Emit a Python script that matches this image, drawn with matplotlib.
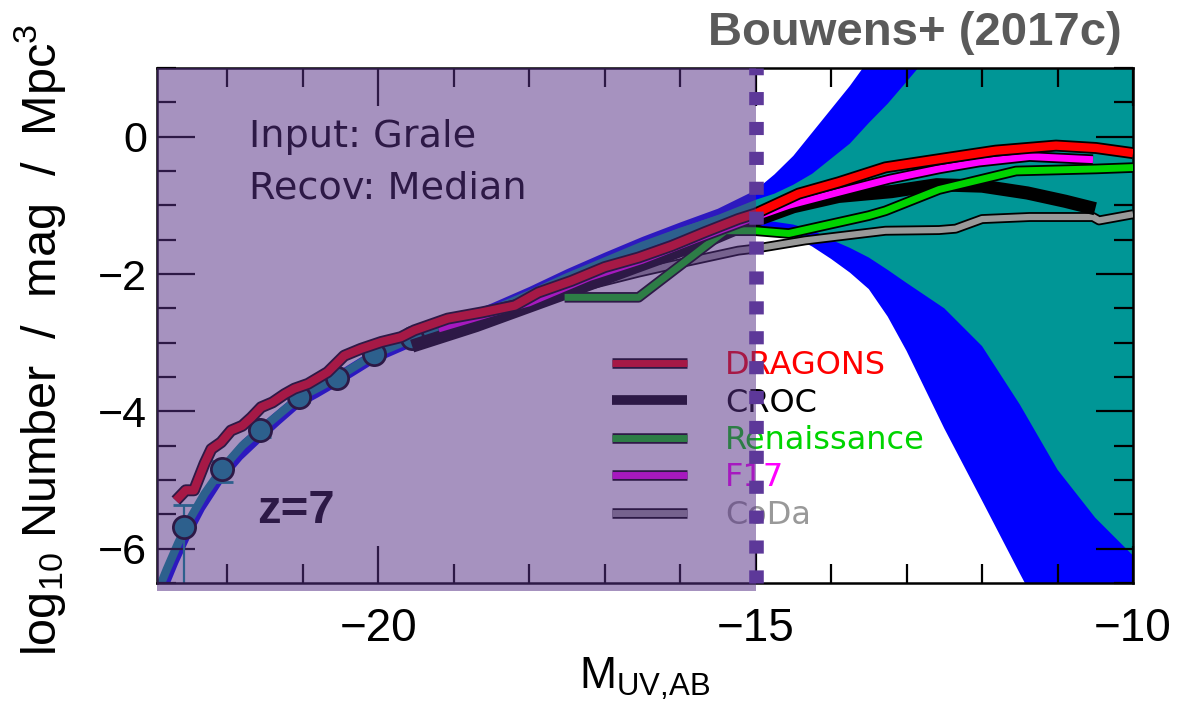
import matplotlib
matplotlib.use("Agg")
import matplotlib.pyplot as plt
import matplotlib.patheffects as pe
from matplotlib.patches import Rectangle
from matplotlib.lines import Line2D
from matplotlib.ticker import MultipleLocator

plt.rcParams['font.family'] = ['Liberation Sans', 'DejaVu Sans']
plt.rcParams['mathtext.default'] = 'regular'

# observed z=7 LF points
obs_mag = [-22.57, -22.07, -21.56, -21.05, -20.55, -20.05, -19.55]
obs_phi = [-5.69, -4.84, -4.27, -3.79, -3.51, -3.17, -2.93]
obs_err_lo = [1.00, 0.19, 0.11, 0.07, 0.05, 0.04, 0.04]
obs_err_hi = [0.32, 0.12, 0.09, 0.06, 0.05, 0.04, 0.04]

# fit + confidence bands
band_mag = [-22.93, -22.80, -22.65, -22.50, -22.30, -22.07, -21.80, -21.56, -21.30,
            -21.05, -20.80, -20.55, -20.30, -20.05, -19.55, -19.00, -18.50, -18.00,
            -17.50, -17.00, -16.50, -16.00, -15.50, -15.00, -14.75, -14.50, -14.25,
            -14.00, -13.75, -13.50, -13.25, -13.00, -12.50, -12.00, -11.50, -11.00,
            -10.50, -10.00]
fit_center = [-6.65, -6.30, -5.92, -5.58, -5.20, -4.84, -4.50, -4.27, -4.03, -3.80,
              -3.66, -3.51, -3.34, -3.17, -2.94, -2.74, -2.53, -2.30, -2.05, -1.82,
              -1.59, -1.39, -1.21, -1.05]
inner_hi = [-6.60, -6.25, -5.87, -5.53, -5.15, -4.79, -4.45, -4.22, -3.98, -3.75,
            -3.61, -3.46, -3.29, -3.12, -2.89, -2.69, -2.48, -2.25, -2.00, -1.77,
            -1.54, -1.33, -1.14, -0.92, -0.83, -0.70, -0.54, -0.32, -0.10, 0.20,
            0.48, 0.80, 1.45, 2.20, 3.00, 3.80, 4.60, 5.40]
inner_lo = [-6.70, -6.35, -5.97, -5.63, -5.25, -4.89, -4.55, -4.32, -4.08, -3.85,
            -3.71, -3.56, -3.39, -3.22, -2.99, -2.79, -2.58, -2.35, -2.10, -1.87,
            -1.64, -1.44, -1.27, -1.22, -1.24, -1.28, -1.36, -1.50, -1.62, -1.76,
            -1.94, -2.13, -2.50, -3.05, -3.90, -4.85, -5.55, -6.10]
outer_hi = [-6.55, -6.20, -5.83, -5.49, -5.12, -4.76, -4.42, -4.19, -3.95, -3.72,
            -3.58, -3.43, -3.26, -3.09, -2.86, -2.65, -2.43, -2.19, -1.93, -1.69,
            -1.46, -1.25, -1.05, -0.78, -0.55, -0.28, 0.06, 0.40, 0.74, 1.12,
            1.55, 2.00, 2.80, 3.60, 4.40, 5.20, 6.00, 6.80]
outer_lo = [-7.00, -6.62, -6.22, -5.86, -5.44, -5.05, -4.70, -4.45, -4.19, -3.95,
            -3.80, -3.64, -3.47, -3.30, -3.06, -2.86, -2.65, -2.42, -2.17, -1.94,
            -1.71, -1.51, -1.35, -1.30, -1.36, -1.46, -1.60, -1.78, -1.98, -2.22,
            -2.62, -3.12, -4.25, -5.30, -6.36, -7.40, -8.40, -9.40]

# simulations
dragons_mag = [-22.68, -22.55, -22.44, -22.30, -22.21, -22.08, -21.95, -21.80, -21.68,
               -21.55, -21.40, -21.24, -21.11, -20.93, -20.67, -20.45, -20.23, -19.96,
               -19.70, -19.52, -19.08, -18.63, -18.19, -17.88, -17.44, -17.00, -16.55,
               -16.11, -15.67, -15.23, -15.00, -14.43, -13.90, -13.28, -12.70, -11.82,
               -11.02, -10.49, -10.00]
dragons_phi = [-5.30, -5.15, -5.15, -4.76, -4.55, -4.45, -4.28, -4.21, -4.09,
               -3.94, -3.87, -3.75, -3.67, -3.60, -3.43, -3.19, -3.09, -2.99,
               -2.92, -2.82, -2.65, -2.56, -2.46, -2.27, -2.10, -1.90, -1.76,
               -1.59, -1.39, -1.20, -1.12, -0.83, -0.665, -0.447, -0.35, -0.204,
               -0.13, -0.165, -0.24]
croc_mag = [-19.55, -18.70, -17.60, -16.60, -15.60, -15.00, -14.50, -13.90, -13.20,
            -12.60, -12.00, -11.40, -10.90, -10.50]
croc_phi = [-3.05, -2.75, -2.31, -1.90, -1.50, -1.22, -1.02, -0.87, -0.80,
            -0.70, -0.72, -0.82, -0.94, -1.05]
ren_mag = [-17.53, -16.55, -15.40, -15.00, -14.56, -13.50, -13.28, -12.57, -11.55,
           -10.49, -10.00]
ren_phi = [-2.34, -2.34, -1.37, -1.37, -1.41, -1.15, -1.08, -0.77, -0.50,
           -0.47, -0.45]
f17_mag = [-19.20, -18.50, -18.00, -17.20, -16.50, -15.80, -15.00, -14.56, -13.90,
           -13.23, -12.57, -12.04, -11.37, -10.53]
f17_phi = [-2.80, -2.57, -2.42, -2.05, -1.80, -1.50, -1.17, -1.00, -0.81,
           -0.62, -0.47, -0.37, -0.29, -0.335]
coda_mag = [-18.60, -17.88, -17.20, -16.55, -15.90, -15.23, -15.00, -14.34, -13.28,
            -12.57, -12.35, -12.00, -11.37, -10.53, -10.45, -10.00]
coda_phi = [-2.55, -2.36, -2.16, -1.98, -1.82, -1.66, -1.63, -1.51, -1.37,
            -1.36, -1.34, -1.20, -1.17, -1.17, -1.22, -1.13]

labels = ["DRAGONS", "CROC", "Renaissance", "F17", "CoDa"]
colors = ["#ff0000", "#000000", "#00d400", "#ff00ff", "#999999"]

TEAL = "#009696"
BLUE = "#0000ff"


def outline(lw):
    return [pe.Stroke(linewidth=lw + 2.6, foreground="black"), pe.Normal()]


fig = plt.figure(figsize=(11.78, 7.15), dpi=100)
ax = fig.add_axes([157 / 1178, 1 - 583 / 715, 976 / 1178, 515 / 715])

ax.fill_between(band_mag, outer_lo, outer_hi, color=BLUE, lw=0, zorder=1)
ax.fill_between(band_mag, inner_lo, inner_hi, color=TEAL, lw=0, zorder=1.1)
ax.plot(band_mag[:len(fit_center)], fit_center, color=TEAL, lw=6, zorder=1.2)

ax.errorbar(obs_mag, obs_phi, yerr=[obs_err_lo, obs_err_hi], fmt="o", ms=16,
            mfc=TEAL, mec="black", mew=2, ecolor=TEAL, elinewidth=1.6,
            capsize=8, capthick=1.6, zorder=2.5)

ax.plot(coda_mag, coda_phi, color=colors[4], lw=4.5, path_effects=outline(4.5),
        solid_capstyle="butt", zorder=3)
ax.plot(croc_mag, croc_phi, color=colors[1], lw=9.5, solid_capstyle="butt", zorder=3.1)
ax.plot(ren_mag, ren_phi, color=colors[2], lw=5, path_effects=outline(5),
        solid_capstyle="butt", zorder=3.2)
ax.plot(f17_mag, f17_phi, color=colors[3], lw=5, path_effects=outline(5),
        solid_capstyle="butt", zorder=3.3)
ax.plot(dragons_mag, dragons_phi, color=colors[0], lw=6, path_effects=outline(6),
        solid_capstyle="butt", zorder=3.4)

# legend
handles = []
for lab, col in zip(labels, colors):
    if lab == "CROC":
        handles.append(Line2D([], [], color=col, lw=7, solid_capstyle="butt"))
    else:
        handles.append(Line2D([], [], color=col, lw=5, solid_capstyle="butt",
                              path_effects=outline(5)))
leg = ax.legend(handles, labels, loc="upper left", bbox_to_anchor=(0.466, 0.452),
                borderaxespad=0, borderpad=0, frameon=False, handlelength=2.35,
                handletextpad=1.2, labelspacing=0.2,
                prop={"family": "DejaVu Sans", "size": 23})
for txt, col in zip(leg.get_texts(), colors):
    txt.set_color(col)

ax.text(-21.71, -0.155, "Input: Grale", fontsize=27.5, family="DejaVu Sans",
        va="baseline", zorder=4)
ax.text(-21.71, -0.90, "Recov: Median", fontsize=27.5, family="DejaVu Sans",
        va="baseline", zorder=4)
ax.text(-21.61, -5.63, "z=7", fontsize=34, fontweight="bold", va="baseline", zorder=4)

# shaded region brighter than -15
ax.add_patch(Rectangle((-22.93, -6.62), 7.93, 7.62, facecolor="#573186", alpha=0.53,
                       lw=0, clip_on=False, zorder=10))
ax.axvline(-15, color="#5d3899", lw=10.5, dashes=(0.9, 1.15), dash_capstyle="butt",
           clip_on=False, zorder=11)

ax.set_xlim(-22.93, -10)
ax.set_ylim(-6.5, 1)
ax.xaxis.set_major_locator(MultipleLocator(5))
ax.xaxis.set_minor_locator(MultipleLocator(1))
ax.yaxis.set_major_locator(MultipleLocator(2))
ax.yaxis.set_minor_locator(MultipleLocator(0.5))
ax.tick_params(which="both", direction="in", top=True, right=True, width=1.6)
ax.tick_params(which="major", length=27)
ax.tick_params(which="minor", length=13.5)
ax.tick_params(axis="x", labelsize=33, pad=17)
ax.tick_params(axis="y", labelsize=31, pad=7)
for sp in ax.spines.values():
    sp.set_linewidth(1.8)

ax.set_xlabel("M$_{UV{,}AB}$", fontsize=32, labelpad=4)
fig.text(40 / 1178, 1 - 340 / 715, "log$_{10}$ Number  /  mag  /  Mpc$^{3}$",
         rotation=90, ha="center", va="center", fontsize=35)
fig.text(1122 / 1178, 1 - 45 / 715, "Bouwens+ (2017c)", ha="right", va="baseline",
         fontsize=34, fontweight="bold", color="#5a5a5a")

fig.savefig("out.png", dpi=100)
